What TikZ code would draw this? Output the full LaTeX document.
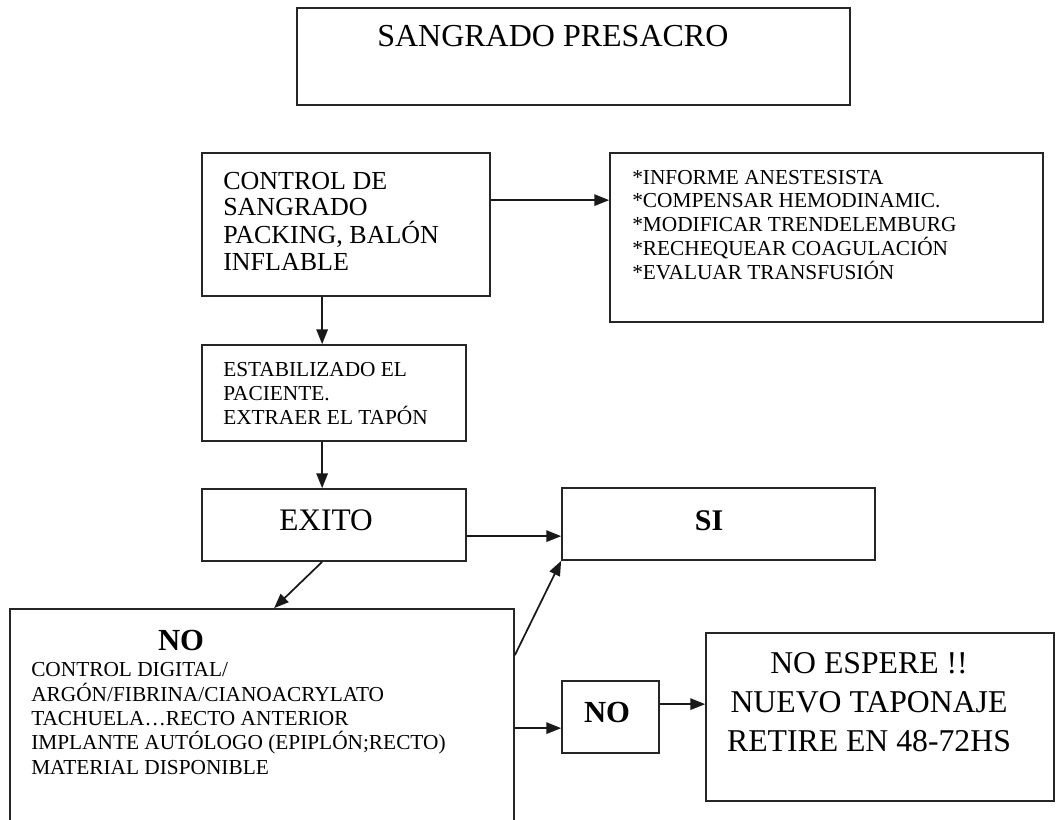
\documentclass[tikz,border=0pt]{standalone}
\usepackage{fontspec}
\setmainfont{Liberation Serif}
\usetikzlibrary{arrows.meta,fit,calc}
\begin{document}
\begin{tikzpicture}[x=0.75pt,y=-0.75pt,
  box/.style={draw=black!85, line width=1.3pt, inner sep=0pt},
  arr/.style={draw=black!90, line width=1.3pt, -{Triangle[length=11pt,width=8.5pt]}},
  txt/.style={inner sep=0pt, anchor=base west, align=left},
  ctxt/.style={inner sep=0pt, anchor=base, align=center}]
\useasboundingbox (0,0) rectangle (1057,820);
\clip (0,0) rectangle (1057,820);
% boxes
\node[box, fit={(297,8) (850,105)}] (title) {};
\node[box, fit={(202,153) (490,296)}] (ctrl) {};
\node[box, fit={(610,153) (1043,322)}] (info) {};
\node[box, fit={(202,345) (466,441)}] (estab) {};
\node[box, fit={(202,489) (466,561)}] (exito) {};
\node[box, fit={(562,488) (875,560)}] (si) {};
\node[box, fit={(10,609) (514,840)}] (nobig) {};
\node[box, fit={(562,681) (659,753)}] (nosmall) {};
\node[box, fit={(706,633) (1054,801)}] (final) {};
% texts (base = baseline of the last line)
\node[txt, font=\fontsize{24}{28}\selectfont] (titleT) at (377,47) {SANGRADO PRESACRO};
\node[txt, font=\fontsize{19.5}{20.25}\selectfont] (ctrlT) at (223,270) {CONTROL DE\\SANGRADO\\PACKING, BALÓN\\INFLABLE};
\node[txt, font=\fontsize{16}{17.8}\selectfont] (infoT) at (632,279) {*INFORME ANESTESISTA\\*COMPENSAR HEMODINAMIC.\\*MODIFICAR TRENDELEMBURG\\*RECHEQUEAR COAGULACIÓN\\*EVALUAR TRANSFUSIÓN};
\node[txt, font=\fontsize{16}{18}\selectfont] (estabT) at (223,424) {ESTABILIZADO EL\\PACIENTE.\\EXTRAER EL TAPÓN};
\node[ctxt, font=\fontsize{23.5}{28}\selectfont] (exitoT) at (326,530) {EXITO};
\node[ctxt, font=\fontsize{22.5}{28}\selectfont\bfseries] (siT) at (709,530) {SI};
\node[ctxt, font=\fontsize{23}{28}\selectfont\bfseries] (noT) at (181,650) {NO};
\node[txt, font=\fontsize{16}{18.2}\selectfont] (noL) at (31,774) {CONTROL DIGITAL/\\ARGÓN/FIBRINA/CIANOACRYLATO\\TACHUELA…RECTO ANTERIOR\\IMPLANTE AUTÓLOGO (EPIPLÓN;RECTO)\\MATERIAL DISPONIBLE};
\node[ctxt, font=\fontsize{23}{28}\selectfont\bfseries] (nosT) at (607,722) {NO};
\node[ctxt, font=\fontsize{23.8}{29.25}\selectfont] (finalT) at (869,751) {NO ESPERE !!\\NUEVO TAPONAJE\\RETIRE EN 48-72HS};
% connectors
\coordinate (a1) at ($(ctrl.north east)+(0,48)$);
\draw[arr] (a1) -- (a1 -| info.west);
\coordinate (a2) at ($(ctrl.south west)+(121,0)$);
\draw[arr] (a2) -- (a2 |- estab.north);
\coordinate (a3) at ($(estab.south west)+(121,0)$);
\draw[arr] (a3) -- (a3 |- exito.north);
\coordinate (a4) at ($(exito.north east)+(0,48)$);
\draw[arr] (a4) -- (a4 -| si.west);
\coordinate (a5) at ($(exito.south west)+(121,0)$);
\coordinate (b5) at ($(nobig.north west)+(265,0)$);
\draw[arr] (a5) -- (b5);
\coordinate (a6) at ($(nobig.north east)+(0,47)$);
\draw[arr] (a6) -- (si.south west);
\coordinate (a7) at ($(nobig.north east)+(0,120)$);
\draw[arr] (a7) -- (a7 -| nosmall.west);
\coordinate (a8) at ($(nosmall.north east)+(0,24)$);
\draw[arr] (a8) -- (a8 -| final.west);
\end{tikzpicture}
\end{document}
